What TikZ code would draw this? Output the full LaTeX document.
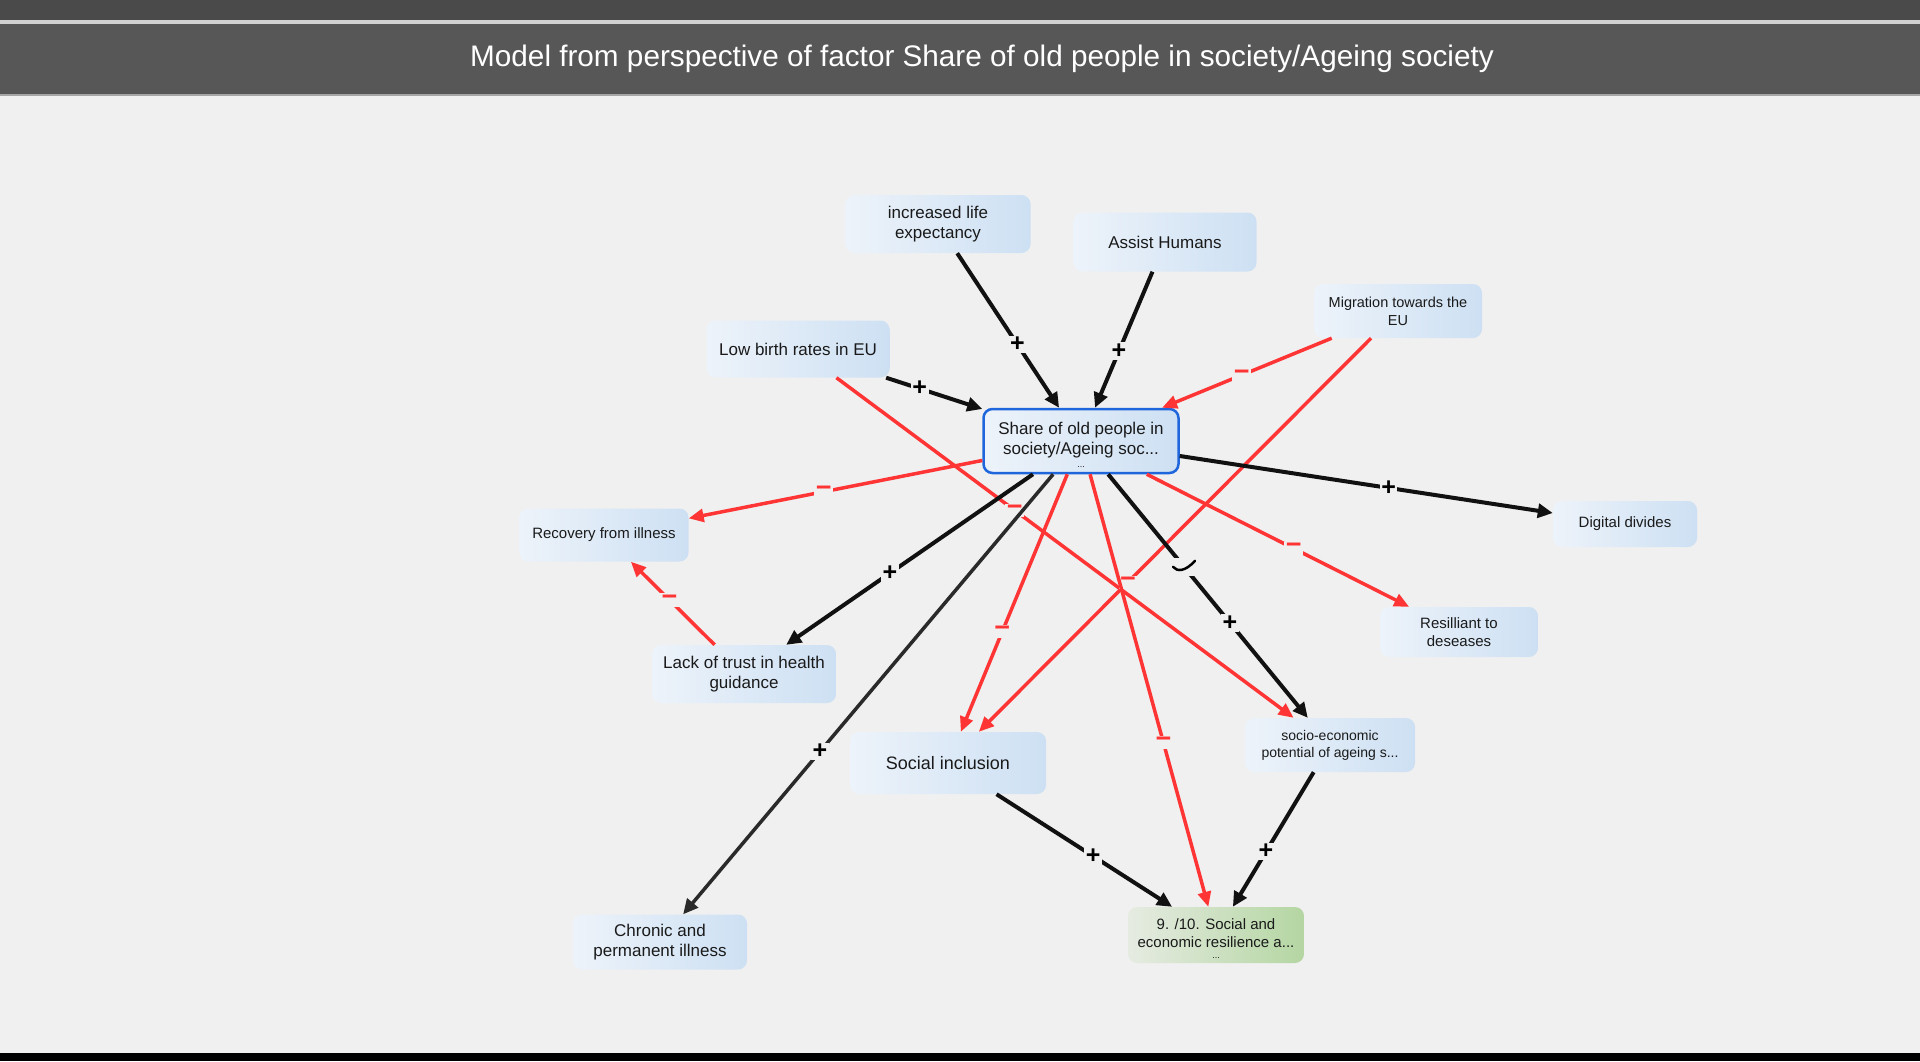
\documentclass[tikz,border=0pt]{standalone}
\usepackage{fontspec}
\setmainfont{Liberation Sans}
\usetikzlibrary{arrows.meta}
\definecolor{bg}{HTML}{F0F0F0}
\definecolor{topdark}{HTML}{4A4A4A}
\definecolor{titlebar}{HTML}{575757}
\definecolor{redline}{HTML}{FF3535}
\definecolor{blackline}{HTML}{111111}
\definecolor{grayline}{HTML}{2A2A2A}
\definecolor{nodeL}{HTML}{EDF3FA}
\definecolor{nodeR}{HTML}{CDE0F3}
\definecolor{greenL}{HTML}{E6EBE2}
\definecolor{greenR}{HTML}{B4D6A2}
\definecolor{blueborder}{HTML}{1F66DD}
\definecolor{txt}{HTML}{1A1A1A}
\tikzset{
  box/.style={rectangle, rounded corners=9pt, align=center, inner sep=0pt,
    left color=nodeL, right color=nodeR, text=txt},
  fs/.style 2 args={font=\fontsize{#1}{#2}\selectfont},
  blk/.style={draw=blackline, line width=4pt, -{Triangle[length=15pt,width=14pt]}},
  gry/.style={draw=grayline, line width=3.5pt, -{Triangle[length=15pt,width=14pt]}},
  rd/.style={draw=redline, line width=3.5pt, -{Triangle[length=15pt,width=13pt]}},
  pl/.style={fill=bg, inner sep=1.5pt, text=black, font=\bfseries\fontsize{25}{25}\selectfont},
  mi/.style={fill=bg, inner sep=1.5pt, text=redline, font=\bfseries\fontsize{27}{27}\selectfont},
}
\begin{document}
\begin{tikzpicture}[x=1pt,y=-1pt]
\useasboundingbox (0,0) rectangle (1920,1061);
% background
\fill[bg] (0,0) rectangle (1920,1061);
\fill[topdark] (0,0) rectangle (1920,20);
\fill[black!18] (0,20) rectangle (1920,24);
\fill[titlebar] (0,24) rectangle (1920,94);
\fill[black!35] (0,94) rectangle (1920,96);
\fill[black] (0,1053) rectangle (1920,1061);
\node[text=white, font=\fontsize{29.7}{34}\selectfont] (title) at (982,59) {Model from perspective of factor Share of old people in society/Ageing society};

% nodes
\node[box, fs={17}{20}, minimum width=185, minimum height=58] (life) at (938,224) {increased life\\expectancy};
\node[box, fs={17}{20}, minimum width=183, minimum height=59] (assist) at (1165,242) {Assist Humans};
\node[box, fs={17}{20}, minimum width=183, minimum height=57] (low) at (798,349) {Low birth rates in EU};
\node[box, fs={17}{20}, minimum width=195, minimum height=64, draw=blueborder, line width=2.5pt] (share) at (1081,441) {\rule{0pt}{20pt}Share of old people in\\society/Ageing soc...\\[-7pt]{\fontsize{9}{9}\selectfont ...}};
\node[box, fs={14.5}{18}, minimum width=168, minimum height=54] (migr) at (1398,311) {Migration towards the\\EU};
\node[box, fs={15}{18}, minimum width=169, minimum height=53] (recov) at (604,535) {Recovery from illness};
\node[box, fs={17}{20}, minimum width=184, minimum height=58] (lack) at (744,674) {Lack of trust in health\\guidance};
\node[box, fs={15}{18}, minimum width=144, minimum height=46] (digi) at (1625,524) {Digital divides};
\node[box, fs={15}{18}, minimum width=158, minimum height=50] (resil) at (1459,632) {Resilliant to\\deseases};
\node[box, fs={14}{17}, minimum width=170, minimum height=54] (socio) at (1330,745) {socio-economic\\potential of ageing s...};
\node[box, fs={18}{21}, minimum width=196, minimum height=62] (social) at (948,763) {Social inclusion};
\node[box, fs={17}{20}, minimum width=174, minimum height=55] (chron) at (660,942) {Chronic and\\permanent illness};
\node[box, fs={15}{18}, minimum width=176, minimum height=56, left color=greenL, right color=greenR] (res910) at (1216,935) {\rule{0pt}{17pt}9. /10. Social and\\economic resilience a...\\[-7pt]{\fontsize{9}{9}\selectfont ...}};

% connectors
\draw[rd] (low) -- node[mi, pos=0.39] (l4) {−} (socio);
\draw[rd] (migr) -- node[mi, pos=0.62] (l6) {−} (social);
\draw[blk] (life) -- node[pl, pos=0.59] (l1) {+} (share);
\draw[blk] (assist) -- node[pl, pos=0.585] (l2) {+} (share);
\draw[blk] (low) -- node[pl, pos=0.35] (l3) {+} (share);
\draw[rd] (migr) -- node[mi, pos=0.53] (l5) {−} (share);
\draw[rd] (share) -- node[mi, pos=0.54] (l7) {−} (recov);
\draw[blk] (share) -- node[pl, pos=0.58] (l8) {+} (lack);
\draw[rd] (lack) -- node[mi, pos=0.54] (l9) {−} (recov);
\draw[gry] (share) -- node[pl, pos=0.63] (l10) {+} (chron);
\draw[rd] (share) -- node[mi, pos=0.61] (l11) {−} (social);
\draw[rd] (share) -- node[mi, pos=0.62] (l12) {−} (res910);
\draw[blk] (share) -- node[pl, pos=0.56] (l13) {+} (digi);
\draw[rd] (share) -- node[mi, pos=0.56] (l14) {−} (resil);
\draw[blk] (share) -- node[fill=bg, minimum width=24, minimum height=18, inner sep=0pt, pos=0.38] (odd) {} node[pl, pos=0.61] (l15) {+} (socio);
\draw[blk] (social) -- node[pl, pos=0.55] (l16) {+} (res910);
\draw[blk] (socio) -- node[pl, pos=0.59] (l17) {+} (res910);
\draw[black, line width=2.5pt, line cap=round] ([shift={(-11,0)}]odd.center) .. controls ([shift={(-7,5)}]odd.center) and ([shift={(1,5)}]odd.center) .. ([shift={(11,-6)}]odd.center);
\end{tikzpicture}
\end{document}
